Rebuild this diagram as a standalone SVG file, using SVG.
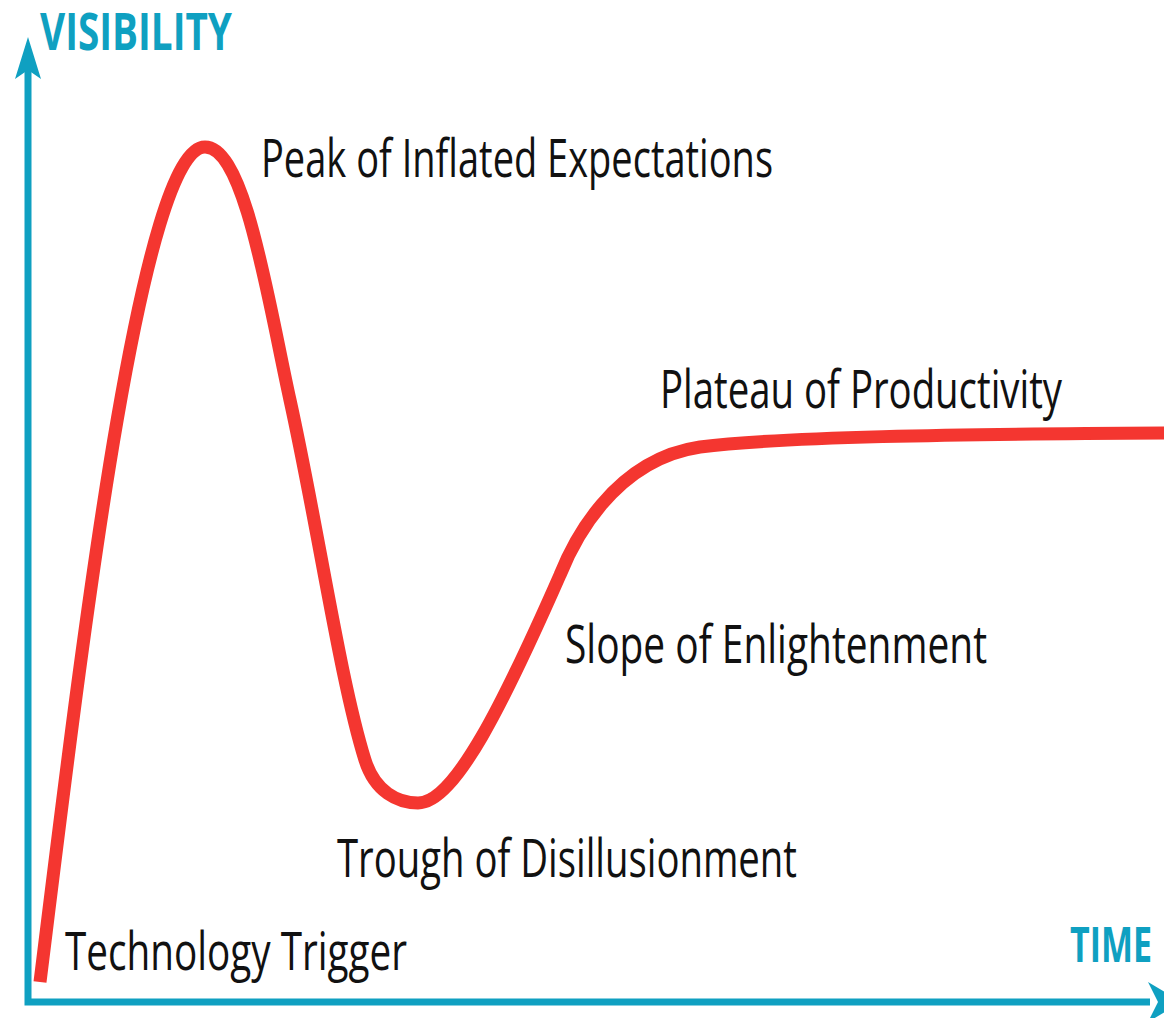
<svg xmlns="http://www.w3.org/2000/svg" width="1164" height="1018" viewBox="0 0 1164 1018">
<style>
.lbl{font-family:"Open Sans","Liberation Sans",sans-serif;font-size:53px;fill:#111}
.ax{font-family:"Open Sans","Liberation Sans",sans-serif;font-weight:700;fill:#0fa0c1}
.axis{stroke:#0fa0c1;stroke-width:7;fill:none}
.head{fill:#0fa0c1}
.curve{stroke:#f43630;stroke-width:13;fill:none;stroke-linecap:butt;stroke-linejoin:round}
</style>
<rect width="1164" height="1018" fill="#fff"/>
<g id="axes">
<path class="axis" d="M28,66 V1002 H1150"/>
<polygon class="head" points="28,37 41,79 28,70 15,79"/>
<polygon class="head" points="1182,1002 1148,982 1158,1002 1148,1022"/>
</g>
<g id="connectors">
<path class="curve" d="M40,982 C80,660 140,147 205,147 C245,147 268,300 290,400 C318,527 340,680 365,760 C375,792 398,803 418,803 C455,803 505,700 560,575 C572,545 612,460 700,447 C780,437 950,434 1170,433"/>
</g>
<g id="visibility"><text class="ax" x="40" y="50" font-size="52" textLength="192" lengthAdjust="spacingAndGlyphs">VISIBILITY</text></g>
<g id="time"><text class="ax" x="1070" y="962" font-size="48" textLength="82" lengthAdjust="spacingAndGlyphs">TIME</text></g>
<g id="trigger"><text class="lbl" x="65" y="970" textLength="342" lengthAdjust="spacingAndGlyphs">Technology Trigger</text></g>
<g id="peak"><text class="lbl" x="261" y="177" textLength="512" lengthAdjust="spacingAndGlyphs">Peak of Inflated Expectations</text></g>
<g id="trough"><text class="lbl" x="337" y="877" textLength="460" lengthAdjust="spacingAndGlyphs">Trough of Disillusionment</text></g>
<g id="slope"><text class="lbl" x="565" y="663" textLength="422" lengthAdjust="spacingAndGlyphs">Slope of Enlightenment</text></g>
<g id="plateau"><text class="lbl" x="660" y="408" textLength="402" lengthAdjust="spacingAndGlyphs">Plateau of Productivity</text></g>
</svg>
